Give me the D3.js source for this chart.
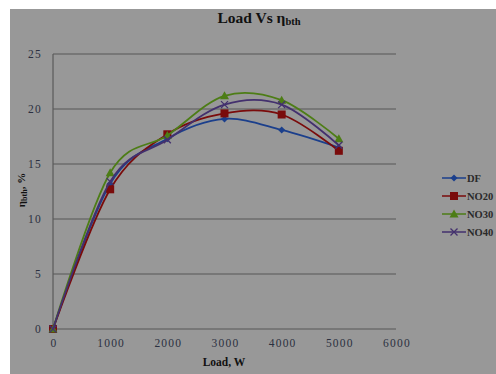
<!DOCTYPE html>
<html>
<head>
<meta charset="utf-8">
<script src="https://cdn.jsdelivr.net/npm/d3@7"></script>
<style>
  html, body { margin: 0; padding: 0; background: #fff; }
  svg { display: block; }
</style>
</head>
<body>
<svg id="chart" width="496" height="374"></svg>
<script>
// Brake thermal efficiency against load for each fuel blend
const loads = [0, 1000, 2000, 3000, 4000, 5000];
const seriesNames = ["DF", "NO20", "NO30", "NO40"];
const dfValues   = [0, 13.2, 17.3, 19.1, 18.1, 16.5];
const no20Values = [0, 12.7, 17.7, 19.6, 19.5, 16.2];
const no30Values = [0, 14.2, 17.6, 21.2, 20.8, 17.3];
const no40Values = [0, 13.4, 17.2, 20.4, 20.4, 16.7];
const xTicks = [0, 1000, 2000, 3000, 4000, 5000, 6000];
const yTicks = [0, 5, 10, 15, 20, 25];

const seriesValues = [dfValues, no20Values, no30Values, no40Values];
const colors = ["#1b3f8c", "#7a0b0b", "#4d7d16", "#43306e"];
const markers = ["diamond", "square", "triangle", "cross"];

const svg = d3.select("#chart");

// grey chart area
svg.append("rect").attr("x", 10).attr("y", 9).attr("width", 486).attr("height", 365)
  .attr("fill", "#989898");

const x = d3.scaleLinear().domain([0, 6000]).range([53, 396]);
const y = d3.scaleLinear().domain([0, 25]).range([329, 54]);

// horizontal gridlines
svg.append("g").selectAll("line").data(yTicks).join("line")
  .attr("x1", x(0)).attr("x2", x(6000))
  .attr("y1", d => y(d)).attr("y2", d => y(d))
  .attr("stroke", "#575757").attr("stroke-width", 1.2);

// vertical axis line
svg.append("line").attr("x1", x(0)).attr("x2", x(0)).attr("y1", y(25)).attr("y2", y(0))
  .attr("stroke", "#5a5a5a").attr("stroke-width", 1.2);

// axis tick labels
const serif = "'Liberation Serif', 'Times New Roman', serif";
svg.append("g").selectAll("text").data(yTicks).join("text")
  .attr("x", 42).attr("y", d => y(d) + 4)
  .attr("text-anchor", "end")
  .attr("font-family", serif).attr("font-size", 11.5).attr("letter-spacing", 1.2)
  .attr("fill", "#2b3040").text(d => d);

svg.append("g").selectAll("text").data(xTicks).join("text")
  .attr("x", d => x(d) + 1).attr("y", 347)
  .attr("text-anchor", "middle")
  .attr("font-family", serif).attr("font-size", 11.5).attr("letter-spacing", 1.2)
  .attr("fill", "#2b3040").text(d => d);

// title
const title = svg.append("text").attr("x", 259).attr("y", 23)
  .attr("text-anchor", "middle")
  .attr("font-family", serif).attr("font-size", 15.5).attr("font-weight", "bold")
  .attr("fill", "#111");
title.append("tspan").text("Load Vs η");
title.append("tspan").attr("font-size", 10.5).attr("dy", 2).text("bth");

// axis titles
svg.append("text").attr("x", 224).attr("y", 366)
  .attr("text-anchor", "middle")
  .attr("font-family", serif).attr("font-size", 11.5).attr("font-weight", "bold")
  .attr("fill", "#111").text("Load, W");

const yl = svg.append("text")
  .attr("transform", "translate(25,190) rotate(-90)")
  .attr("text-anchor", "middle")
  .attr("font-family", serif).attr("font-size", 11).attr("font-weight", "bold")
  .attr("fill", "#111");
yl.append("tspan").text("η");
yl.append("tspan").attr("font-size", 8).attr("dy", 1.5).text("bth");
yl.append("tspan").attr("dy", -1.5).text(", %");

// smoothed series lines
const line = d3.line()
  .x((d, i) => x(loads[i]))
  .y(d => y(d))
  .curve(d3.curveCardinal.tension(0));

function drawMarker(g, type, cx, cy, color) {
  if (type === "diamond") {
    g.append("path").attr("d", `M${cx},${cy - 3.5}L${cx + 3.5},${cy}L${cx},${cy + 3.5}L${cx - 3.5},${cy}Z`)
      .attr("fill", color);
  } else if (type === "square") {
    g.append("rect").attr("x", cx - 4).attr("y", cy - 4).attr("width", 8).attr("height", 8)
      .attr("fill", color);
  } else if (type === "triangle") {
    g.append("path").attr("d", `M${cx},${cy - 4.5}L${cx + 4.5},${cy + 3.5}L${cx - 4.5},${cy + 3.5}Z`)
      .attr("fill", color);
  } else {
    g.append("path").attr("d", `M${cx - 3.5},${cy - 3.5}L${cx + 3.5},${cy + 3.5}M${cx - 3.5},${cy + 3.5}L${cx + 3.5},${cy - 3.5}`)
      .attr("stroke", color).attr("stroke-width", 1.3).attr("fill", "none");
  }
}

seriesValues.forEach((vals, s) => {
  const g = svg.append("g");
  g.append("path").attr("d", line(vals))
    .attr("fill", "none").attr("stroke", colors[s]).attr("stroke-width", 1.8);
  vals.forEach((v, i) => drawMarker(g, markers[s], x(loads[i]), y(v), colors[s]));
});

// legend
seriesNames.forEach((name, s) => {
  const ly = 178 + s * 18;
  const g = svg.append("g");
  g.append("line").attr("x1", 442).attr("x2", 466).attr("y1", ly).attr("y2", ly)
    .attr("stroke", colors[s]).attr("stroke-width", 1.5);
  drawMarker(g, markers[s], 454, ly, colors[s]);
  g.append("text").attr("x", 467).attr("y", ly + 4)
    .attr("font-family", serif).attr("font-size", 10.5).attr("font-weight", "bold")
    .attr("fill", "#2a2a2a").text(name);
});
</script>
</body>
</html>
